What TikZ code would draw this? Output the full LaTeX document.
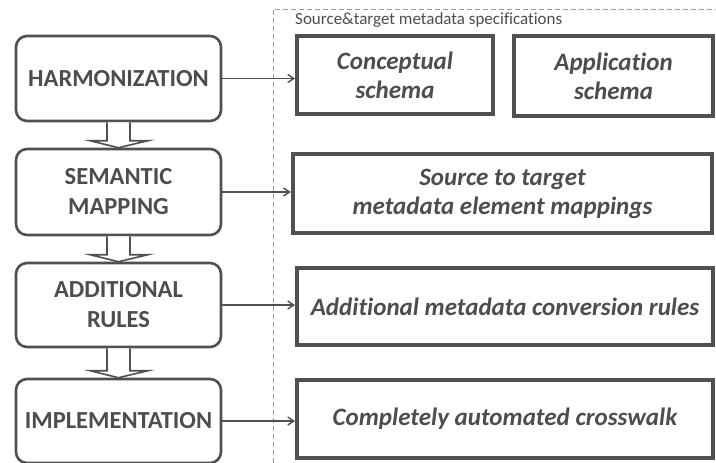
\documentclass[tikz,border=0pt]{standalone}
\usepackage{fontspec}
\setmainfont{Carlito}[Ligatures=NoCommon]
\usetikzlibrary{calc,arrows.meta}
\definecolor{txt}{HTML}{4D4D4D}
\definecolor{edge}{HTML}{505050}
\begin{document}
\begin{tikzpicture}[x=1pt,y=-1pt,
  stage/.style={draw=edge,line width=2.6pt,rounded corners=11pt,minimum width=205pt,text=txt,
    font=\fontsize{24.5}{30}\selectfont\bfseries,align=center,inner sep=0pt},
  spec/.style={draw=edge,line width=4pt,text=txt,font=\fontsize{25}{29}\selectfont\bfseries\itshape,
    align=center,inner sep=0pt},
  link/.style={draw=edge,line width=1.6pt,-{Straight Barb[length=6pt,width=8pt,line width=1.4pt]}},
  blk/.style={draw=edge,line width=1.6pt,fill=white,line join=miter},
  frame/.style={draw=gray!80,line width=0.9pt,dash pattern=on 5pt off 3pt}]
\useasboundingbox (0,0) rectangle (716,463);
\draw[frame] (273,463) -- (273,9) -- (716,9);
\node[anchor=west,text=txt,font=\fontsize{17}{20}\selectfont,inner sep=0pt] (lbl) at (295,20) {Source\&target metadata specifications};

\node[stage,minimum height=85pt] (h) at (118.5,78.5) {HARMONIZATION};
\node[stage,minimum height=86pt] (s) at (118.5,192) {SEMANTIC\\MAPPING};
\node[stage,minimum height=84pt] (a) at (118.5,305) {ADDITIONAL\\RULES};
\node[stage,minimum height=84pt] (i) at (118.5,421) {IMPLEMENTATION};

\node[spec,minimum width=196pt,minimum height=78pt] (c) at (395,75) {Conceptual\\schema};
\node[spec,minimum width=199pt,minimum height=80pt] (ap) at (613.5,76) {Application\\schema};
\node[spec,minimum width=419pt,minimum height=79pt,line width=4.5pt] (m) at (502.5,193.5) {Source to target\\metadata element mappings};
\node[spec,minimum width=416pt,minimum height=77pt] (r) at (505,306.5) {Additional metadata conversion rules};
\node[spec,minimum width=416pt,minimum height=78pt] (w) at (505,419) {Completely automated crosswalk};

\foreach \p/\q in {h/s,s/a,a/i}{
  \draw[blk] ($(\p.south)+(-11.5,0)$) -- ($(\q.north)+(-11.5,-7)$) -- ($(\q.north)+(-28.5,-7)$)
    -- (\q.north) -- ($(\q.north)+(29.5,-7)$) -- ($(\q.north)+(11.5,-7)$) -- ($(\p.south)+(11.5,0)$);
}

\draw[link] (h.east) -- (h.east -| c.west);
\draw[link] (s.east) -- (s.east -| m.west);
\draw[link] (a.east) -- (a.east -| r.west);
\draw[link] (i.east) -- (i.east -| w.west);
\end{tikzpicture}
\end{document}
